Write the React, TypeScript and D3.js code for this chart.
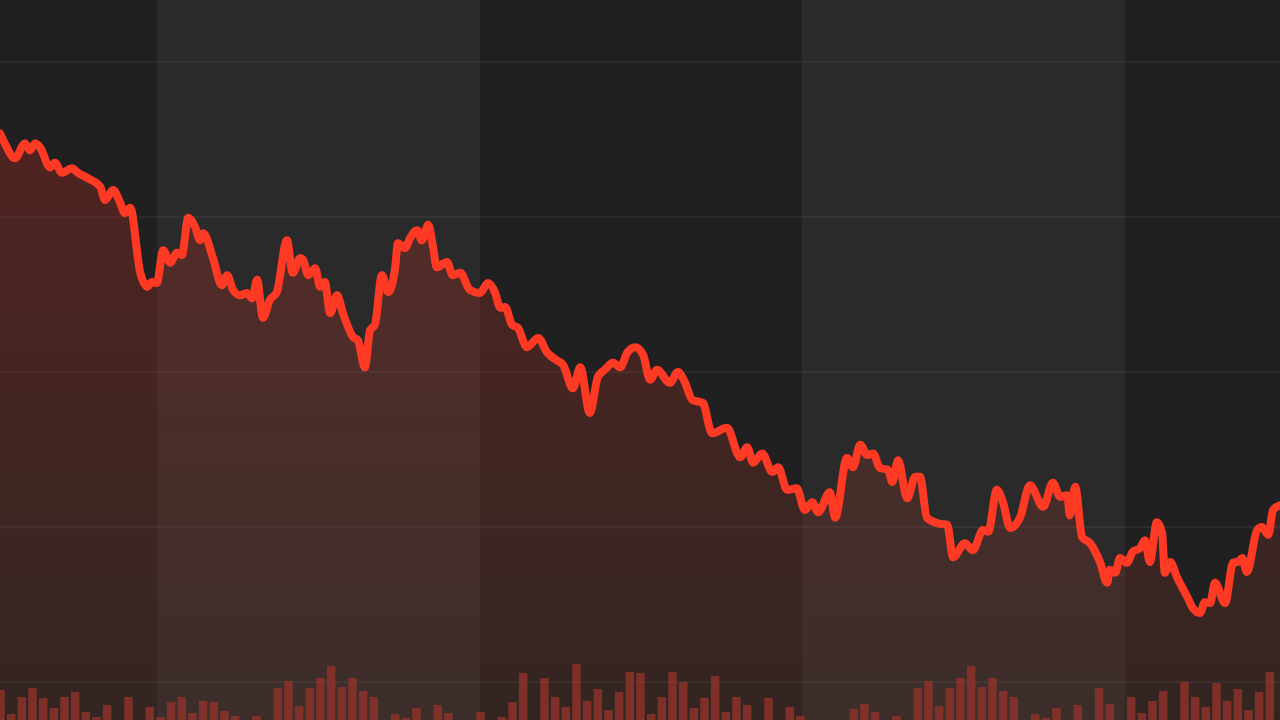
import React from "react";
import * as d3 from "d3";

// Trading-day positions and closing prices of the index line
const days: number[] = [
  0, 0.9, 2.8, 4.7, 5.6, 6.6, 7.5, 9.4, 10.3, 11.6, 13.5, 14.6, 16.5, 18.8, 19.7, 21.2, 22.5, 23.4, 24.4,
  26.3, 27.6, 28.5, 29.4, 30.6, 31.9, 33.2, 34.1, 35.3, 36.6, 37.5, 38.1, 39.9, 41.6, 42.6, 43.7, 45, 46.3,
  47.3, 48.2, 49.3, 50.6, 51.9, 53.8, 54.9, 56.3, 56.8, 57.8, 59.1, 60, 60.9, 61.9, 63.2, 64.3, 66.2, 67.1,
  68.4, 69.4, 70.3, 71.6, 72.8, 74.1, 74.6, 75.9, 76.9, 78.2, 79.1, 80.3, 81.2, 81.9, 83.8, 84.9, 86.3,
  88.1, 90, 91.5, 92.8, 93.8, 94.7, 96, 97.1, 98.8, 100.9, 102.6, 104.4, 105.6, 107.4, 108.8, 110.6, 112.1,
  113.4, 114.9, 116.3, 117.6, 119.1, 120.6, 121.9, 123.2, 125.6, 127.1, 128.4, 129.8, 131.8, 133.5, 136.3,
  138.8, 140.1, 141.2, 142.9, 144.8, 145.9, 147.6, 149.4, 150.9, 152.3, 153.4, 155.6, 156.6, 158.8, 159.9,
  161.3, 162.6, 163.7, 165, 166.5, 167.3, 168.4, 170.1, 171.6, 172.5, 173.8, 176.3, 177.6, 178.7, 180.9,
  182.4, 184.3, 185.3, 186.9, 188.1, 189.4, 191.3, 193.1, 195.6, 197.4, 198.8, 200.1, 200.6, 201.6, 202.9,
  204.4, 206.3, 207.6, 208.1, 209.1, 210, 211.3, 212.4, 213.8, 214.7, 215.6, 216.9, 217.9, 218.4, 219.4,
  220.7, 222.6, 223.7, 225, 225.9, 226.9, 227.8, 229.7, 231.2, 232.1, 232.9, 233.8, 235.7, 236.6, 237.8,
  238.7, 240,
];

const prices: number[] = [
  4708, 4695, 4676, 4695, 4686, 4695, 4690, 4664, 4670, 4657, 4663, 4657, 4650, 4639, 4622, 4635, 4619, 4605, 4612,
  4528, 4510, 4516, 4515, 4557, 4541, 4554, 4551, 4599, 4587, 4570, 4579, 4548, 4512, 4525, 4506, 4499, 4502,
  4495, 4519, 4470, 4493, 4503, 4570, 4528, 4547, 4545, 4525, 4534, 4510, 4516, 4476, 4499, 4476, 4445, 4441,
  4406, 4454, 4461, 4525, 4503, 4535, 4566, 4560, 4573, 4583, 4570, 4590, 4561, 4535, 4542, 4525, 4528,
  4506, 4502, 4515, 4503, 4483, 4484, 4461, 4457, 4432, 4444, 4425, 4415, 4409, 4379, 4406, 4347, 4394,
  4403, 4412, 4406, 4425, 4432, 4422, 4390, 4403, 4386, 4400, 4387, 4364, 4360, 4321, 4328,
  4290, 4303, 4283, 4295, 4271, 4277, 4248, 4250, 4222, 4232, 4219, 4245, 4212, 4289, 4277,
  4306, 4293, 4295, 4276, 4274, 4258, 4286, 4237, 4265, 4265, 4212, 4204, 4203, 4161, 4179,
  4170, 4196, 4194, 4248, 4231, 4199, 4213, 4254, 4226, 4257, 4239, 4241, 4215, 4252, 4187,
  4179, 4154, 4128, 4145, 4141, 4160, 4154, 4168, 4173, 4183, 4155, 4206, 4192, 4141, 4155,
  4135, 4110, 4095, 4089, 4103, 4102, 4128, 4102, 4154, 4155, 4160, 4142, 4196, 4200, 4190,
  4222, 4228,
];

// Trading volume, one bar every two trading days (relative units)
const volumes: number[] = [
  30, 6, 23, 32, 22, 12, 23, 28, 8, 3, 15, 0, 23, 0, 13, 3, 18, 23, 7, 19,
  18, 9, 4, 0, 4, 0, 32, 39, 14, 32, 42, 54, 33, 42, 29, 23, 0, 6, 2, 12,
  0, 15, 7, 0, 0, 8, 0, 3, 18, 47, 0, 42, 23, 13, 56, 19, 31, 10, 28, 48,
  47, 6, 23, 48, 38, 12, 22, 44, 8, 23, 15, 0, 22, 0, 13, 4, 0, 0, 0, 0,
  11, 16, 8, 0, 4, 0, 32, 39, 14, 32, 42, 54, 33, 42, 29, 23, 0, 6, 2, 12,
  0, 15, 0, 32, 16, 0, 23, 7, 19, 29, 0, 38, 23, 13, 37, 19, 31, 10, 28, 48,
];

// Month boundaries (trading days) for the alternating background bands
const monthStarts: number[] = [0, 29.4, 90, 150.4, 211, 240];
const priceTicks: number[] = [4000, 4200, 4400, 4600, 4800];

const W = 1280;
const H = 720;

export default function App() {
  const x = d3.scaleLinear().domain([0, 240]).range([0, W]);
  const y = d3.scaleLinear().domain([3951, 4880]).range([H, 0]);
  const vy = d3.scaleLinear().domain([0, 100]).range([H, H - 100]);

  const pts = days.map((d, i) => [d, prices[i]] as [number, number]);
  const line = d3
    .line<[number, number]>()
    .x((p) => x(p[0]))
    .y((p) => y(p[1]))
    .curve(d3.curveMonotoneX);
  const area = d3
    .area<[number, number]>()
    .x((p) => x(p[0]))
    .y0(H)
    .y1((p) => y(p[1]))
    .curve(d3.curveMonotoneX);

  const bandStep = x(2) - x(0);
  const barW = bandStep * 0.8;

  return (
    <svg
      width={W}
      height={H}
      style={{ position: "fixed", left: 0, top: 0, display: "block" }}
      shapeRendering="auto"
    >
      <defs>
        <linearGradient id="areaGrad" gradientUnits="userSpaceOnUse" x1="0" y1="120" x2="0" y2={H}>
          <stop offset="0" stopColor="rgb(195,40,30)" stopOpacity={0.3} />
          <stop offset="1" stopColor="rgb(190,70,50)" stopOpacity={0.12} />
        </linearGradient>
      </defs>
      <rect x={0} y={0} width={W} height={H} fill="#202020" />
      {monthStarts.slice(0, -1).map((m, i) =>
        i % 2 === 1 ? (
          <rect
            key={"band" + i}
            x={Math.round(x(m))}
            y={0}
            width={Math.round(x(monthStarts[i + 1])) - Math.round(x(m))}
            height={H}
            fill="#2a2a2a"
            shapeRendering="crispEdges"
          />
        ) : null
      )}
      {priceTicks.map((t) => (
        <line
          key={"g" + t}
          x1={0}
          x2={W}
          y1={y(t)}
          y2={y(t)}
          stroke="#ffffff"
          strokeOpacity={0.05}
          strokeWidth={2}
        />
      ))}
      <path d={area(pts) || ""} fill="url(#areaGrad)" />
      {volumes.map((v, i) => (
        <rect
          key={"v" + i}
          x={x(2 * i) + 0.5 - barW / 2}
          y={vy(v)}
          width={barW}
          height={H - vy(v)}
          fill="#92322a"
          opacity={0.78}
        />
      ))}
      <path
        d={line(pts) || ""}
        fill="none"
        stroke="#ff3a24"
        strokeWidth={8}
        strokeLinejoin="round"
        strokeLinecap="round"
      />
    </svg>
  );
}
